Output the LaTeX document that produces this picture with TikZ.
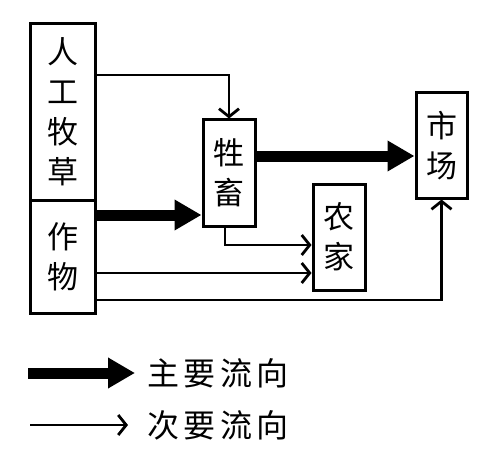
\documentclass[tikz,border=0pt]{standalone}
\usepackage{fontspec}
\newfontfamily\cjk[LetterSpace=14]{Noto Sans CJK SC}
\usetikzlibrary{arrows.meta}

\begin{document}
\begin{tikzpicture}[x=1pt,y=-1pt,
        box/.style={draw, line width=3pt, inner sep=0pt, align=center,
            font=\cjk\fontsize{31}{40}\selectfont},
        major/.style={line width=11pt, -{Triangle[length=27pt,width=29pt]}},
        minor/.style={line width=2.8pt, -{Straight Barb[length=8pt,width=20pt]}},
        legend/.style={anchor=west, inner sep=0pt, font=\cjk\fontsize{32}{36}\selectfont}]
        \useasboundingbox (0,0) rectangle (496,460);

        \node[box, minimum width=65pt, minimum height=176pt] (grass) at (62.5,112) {人\\工\\牧\\草};
        \node[box, minimum width=65pt, minimum height=113pt] (crop) at (62.5,256.5) {作\\物};
        \node[box, minimum width=52pt, minimum height=106pt] (stock) at (229,173) {牲\\畜};
        \node[box, minimum width=52pt, minimum height=106pt] (farm) at (339,237) {农\\家};
        \node[box, minimum width=51pt, minimum height=105pt] (market) at (441.5,145.5) {市\\场};

        \draw[minor] (grass.east |- 0,75) -| (stock.north);
        \draw[major] (crop.east |- 0,215) -- (stock.west |- 0,215);
        \draw[major] (stock.east |- 0,156) -- (market.west |- 0,156);
        \draw[minor] (stock.south -| 225,0) |- (farm.west |- 0,245);
        \draw[minor] (crop.east |- 0,273) -- (farm.west |- 0,273);
        \draw[minor] (crop.east |- 0,300) -| (market.south);

        \coordinate (k1) at (28,373);
        \coordinate (k2) at (30,425);
        \node[legend] (main) at (147,373) {主要流向};
        \node[legend] (side) at (147,425) {次要流向};
        \draw[major] (k1) -- ([xshift=-12pt]main.west);
        \draw[minor] (k2) -- ([xshift=-19pt]side.west);
    \end{tikzpicture}
\end{document}
